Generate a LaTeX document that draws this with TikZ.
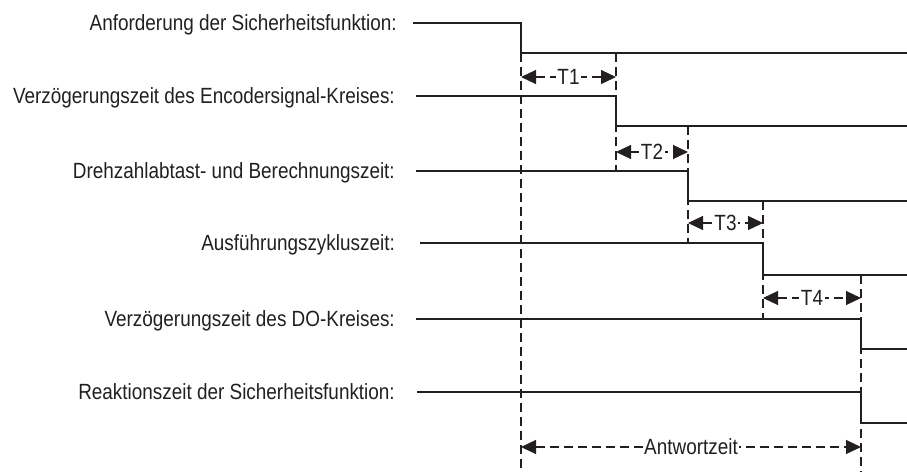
\documentclass[tikz,border=0pt]{standalone}
\usepackage{fontspec}
\setmainfont{Liberation Sans}[FakeStretch=0.86]
\usepackage{tikz}
\usetikzlibrary{positioning}
\usetikzlibrary{calc}
\usetikzlibrary{arrows.meta}
\definecolor{ink}{HTML}{231F20}

\begin{document}
\begin{tikzpicture}[x=1pt, y=-1pt,
    every node/.style={font=\fontsize{22}{26}\selectfont, text=ink},
    siglabel/.style={anchor=base east, inner sep=0pt},
    signal/.style={draw=ink, line width=2pt},
    guide/.style={draw=ink, line width=1.2pt, dash pattern=on 9pt off 5pt},
    span/.style={guide, {Triangle[length=15pt,width=14pt]}-{Triangle[length=15pt,width=14pt]}},
    tag/.style={fill=white, inner sep=1.5pt}]

    \useasboundingbox (0,0) rectangle (907,472);

    % switching instants
    \coordinate (t0) at (521,0);
    \coordinate (t1) at (616,0);
    \coordinate (t2) at (688,0);
    \coordinate (t3) at (763,0);
    \coordinate (t4) at (861,0);
    \coordinate (bot) at (0,472);

    % high and low levels
    \coordinate (h1) at (413,23);  \coordinate (lo1) at (907,53);
    \coordinate (h2) at (416,96);  \coordinate (lo2) at (907,126);
    \coordinate (h3) at (416,171); \coordinate (lo3) at (907,201);
    \coordinate (h4) at (420,243); \coordinate (lo4) at (907,275);
    \coordinate (h5) at (416,319); \coordinate (lo5) at (907,349);
    \coordinate (h6) at (417,392); \coordinate (lo6) at (907,423);

    \node[siglabel] (l1) at ($(h1)+(-16,7.5)$) {Anforderung der Sicherheitsfunktion:};
    \node[siglabel] (l2) at ($(h2)+(-21,7.5)$) {Verzögerungszeit des Encodersignal-Kreises:};
    \node[siglabel] (l3) at ($(h3)+(-21,7.5)$) {Drehzahlabtast- und Berechnungszeit:};
    \node[siglabel] (l4) at ($(h4)+(-25,7.5)$) {Ausführungszykluszeit:};
    \node[siglabel] (l5) at ($(h5)+(-21,7.5)$) {Verzögerungszeit des DO-Kreises:};
    \node[siglabel] (l6) at ($(h6)+(-22,7.5)$) {Reaktionszeit der Sicherheitsfunktion:};

    \draw[guide] (lo1 -| t0) -- (bot -| t0);
    \draw[guide] (lo1 -| t1) -- (h3 -| t1);
    \draw[guide] (lo2 -| t2) -- (h4 -| t2);
    \draw[guide] (lo3 -| t3) -- (h5 -| t3);
    \draw[guide] (lo4 -| t4) -- (bot -| t4);

    \draw[signal] (h1) -- (h1 -| t0) |- (lo1);
    \draw[signal] (h2) -- (h2 -| t1) |- (lo2);
    \draw[signal] (h3) -- (h3 -| t2) |- (lo3);
    \draw[signal] (h4) -- (h4 -| t3) |- (lo4);
    \draw[signal] (h5) -- (h5 -| t4) |- (lo5);
    \draw[signal] (h6) -- (h6 -| t4) |- (lo6);

    \foreach \a/\b/\y/\txt in {t0/t1/77/T1, t1/t2/152/T2, t2/t3/223/T3, t3/t4/298/T4, t0/t4/447/Antwortzeit}
        \draw[span] ($(\a)+(0,\y)$) -- node[tag] (\txt) {\txt} ($(\b)+(0,\y)$);

\end{tikzpicture}
\end{document}
